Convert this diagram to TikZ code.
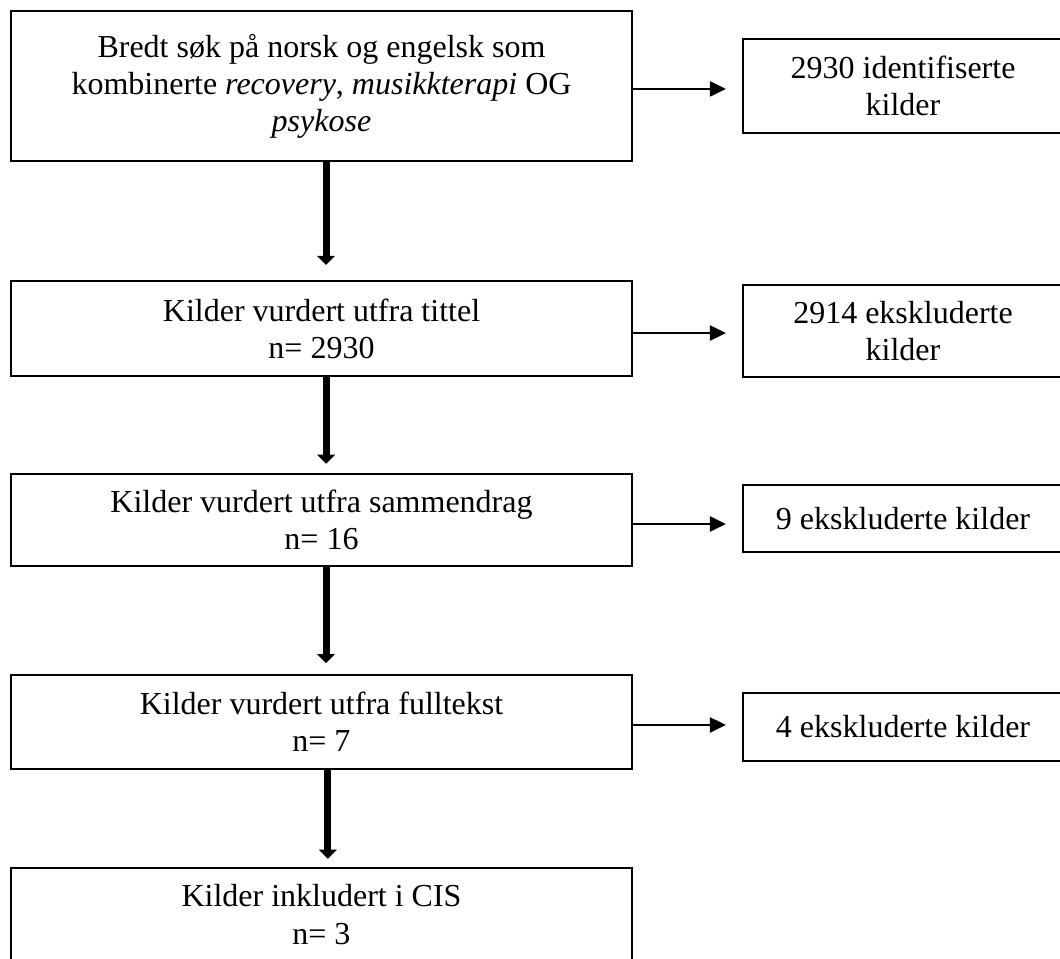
\documentclass[tikz,border=0pt]{standalone}
\usepackage{fontspec}
\setmainfont{Liberation Serif}
\usetikzlibrary{arrows.meta}
\begin{document}
\begin{tikzpicture}[x=0.375pt, y=-0.375pt,
  box/.style={draw, line width=0.9pt, inner sep=0pt, align=center, font=\fontsize{12}{13.9}\selectfont},
  mainarrow/.style={line width=2.6pt, -{Triangle[width=6.6pt, length=3.4pt]}, shorten >=4pt},
  sidearrow/.style={line width=0.45pt, -{Triangle[width=5.8pt, length=6pt]}, shorten >=6pt}]
  \useasboundingbox (0,0) rectangle (1060,958);
  \node[box, minimum width=232.9pt, minimum height=56.25pt] (b1) at (321.5,86) {Bredt søk på norsk og engelsk som\\kombinerte \textit{recovery}, \textit{musikkterapi} OG\\\textit{psykose}};
  \node[box, minimum width=232.9pt, minimum height=35.6pt] (b2) at (321.5,328.5) {Kilder vurdert utfra tittel\\n= 2930};
  \node[box, minimum width=232.9pt, minimum height=34.5pt] (b3) at (321.5,520) {Kilder vurdert utfra sammendrag\\n= 16};
  \node[box, minimum width=232.9pt, minimum height=35.25pt] (b4) at (321.5,722) {Kilder vurdert utfra fulltekst\\n= 7};
  \node[box, minimum width=232.9pt, minimum height=34.9pt] (b5) at (321.5,914.5) {Kilder inkludert i CIS\\n= 3};
  \node[box, minimum width=120pt, minimum height=35.25pt] (e1) at (903,86) {2930 identifiserte\\kilder};
  \node[box, minimum width=120pt, minimum height=34.5pt] (e2) at (903,331) {2914 ekskluderte\\kilder};
  \node[box, minimum width=120pt, minimum height=25.1pt] (e3) at (903,518.5) {9 ekskluderte kilder};
  \node[box, minimum width=120pt, minimum height=25.5pt] (e4) at (903,727) {4 ekskluderte kilder};
  \draw[mainarrow, shorten >=5.6pt] ([xshift=1.7pt]b1.south) -- ([xshift=1.7pt]b2.north);
  \draw[mainarrow, shorten >=3.4pt] ([xshift=1.7pt]b2.south) -- ([xshift=1.7pt]b3.north);
  \draw[mainarrow] ([xshift=1.7pt]b3.south) -- ([xshift=1.7pt]b4.north);
  \draw[mainarrow, shorten >=3pt] ([xshift=2.4pt]b4.south) -- ([xshift=2.4pt]b5.north);
  \draw[sidearrow] ([yshift=-1.1pt]b1.east) -- ([yshift=-1.1pt]b1.east -| e1.west);
  \draw[sidearrow] ([yshift=-1.7pt]b2.east) -- ([yshift=-1.7pt]b2.east -| e2.west);
  \draw[sidearrow] ([yshift=-1.5pt]b3.east) -- ([yshift=-1.5pt]b3.east -| e3.west);
  \draw[sidearrow] ([yshift=-1.1pt]b4.east) -- ([yshift=-1.1pt]b4.east -| e4.west);
\end{tikzpicture}
\end{document}
